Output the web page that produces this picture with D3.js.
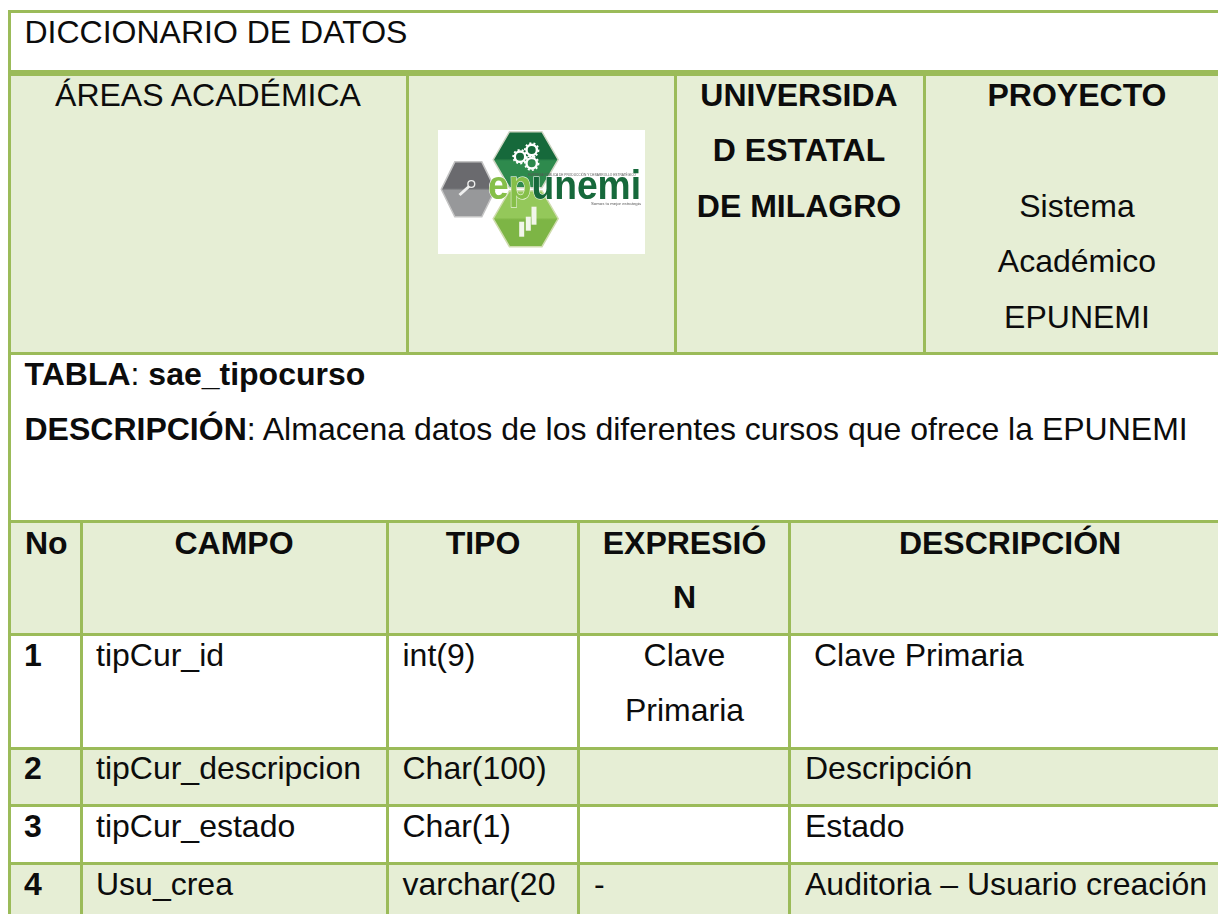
<!DOCTYPE html>
<html>
<head>
<meta charset="utf-8">
<script src="https://cdn.jsdelivr.net/npm/d3@7"></script>
<style>
  html, body { margin: 0; padding: 0; background: #fff; }
  svg { display: block; }
  text { font-family: "Liberation Sans", Arial, sans-serif; fill: #0c0c0c; }
</style>
</head>
<body>
<div id="chart"></div>
<script>
// table contents
var titleText = "DICCIONARIO DE DATOS";
var areaText = "ÁREAS ACADÉMICA";
var uniLines = ["UNIVERSIDA", "D ESTATAL", "DE MILAGRO"];
var projTitle = "PROYECTO";
var projLines = ["Sistema", "Académico", "EPUNEMI"];
var tablaLabel = "TABLA";
var tablaName = "sae_tipocurso";
var descLabel = "DESCRIPCIÓN";
var descText = ": Almacena datos de los diferentes cursos que ofrece la EPUNEMI";

var columns = ["No", "CAMPO", "TIPO", "EXPRESIÓN", "DESCRIPCIÓN"];
var headerLines = [["No"], ["CAMPO"], ["TIPO"], ["EXPRESIÓ", "N"], ["DESCRIPCIÓN"]];
var rowNo = ["1", "2", "3", "4"];
var rowCampo = ["tipCur_id", "tipCur_descripcion", "tipCur_estado", "Usu_crea"];
var rowTipo = ["int(9)", "Char(100)", "Char(1)", "varchar(20"];
var rowExpr = [["Clave", "Primaria"], [], [], ["-"]];
var rowDesc = ["Clave Primaria", "Descripción", "Estado", "Auditoria – Usuario creación"];

var width = 1218, height = 914;
var green = "#9bbb59", pale = "#e6eed5";
var fontSize = 32;

var svg = d3.select("#chart").append("svg")
  .attr("width", width)
  .attr("height", height);
var defs = svg.append("defs");

// layout of the two grids
var colEdge = d3.scaleOrdinal().domain(columns).range([9.5, 81.5, 387.5, 578.5, 789.5]);
var bandY = d3.scaleOrdinal().domain(["head", "0", "1", "2", "3", "end"]).range([521, 634.5, 748.5, 805.5, 863.5, 914]);
var topEdge = d3.scaleOrdinal().domain(["logo", "uni", "proj"]).range([407.5, 675.5, 924.5]);

function text(x, y, s, bold, anchor) {
  return svg.append("text")
    .attr("x", x).attr("y", y)
    .attr("font-size", fontSize)
    .attr("font-weight", bold ? "bold" : "normal")
    .attr("text-anchor", anchor || "start")
    .text(s);
}

// fills
svg.append("rect").attr("x", 9).attr("y", 74).attr("width", width - 9).attr("height", 280).attr("fill", pale);
svg.append("rect").attr("x", 9).attr("y", 521).attr("width", width - 9).attr("height", bandY("0") - 521).attr("fill", pale);
[["1", "2"], ["3", "end"]].forEach(function (k) {
  svg.append("rect").attr("x", 9).attr("y", bandY(k[0])).attr("width", width - 9)
    .attr("height", bandY(k[1]) - bandY(k[0])).attr("fill", pale);
});

// grid lines
function hline(y, w) {
  svg.append("rect").attr("x", 8).attr("y", y - w / 2).attr("width", width - 8).attr("height", w).attr("fill", green);
}
function vline(x, y0, y1, w) {
  svg.append("rect").attr("x", x - w / 2).attr("y", y0).attr("width", w).attr("height", y1 - y0).attr("fill", green);
}
hline(11.5, 3);
hline(73, 6);
hline(353.5, 3);
hline(521.5, 3);
["0", "1", "2", "3"].forEach(function (k) { hline(bandY(k), 3); });
vline(9.5, 10, height, 3);
["logo", "uni", "proj"].forEach(function (k) { vline(topEdge(k), 73, 354, 3); });
columns.slice(1).forEach(function (c) { vline(colEdge(c), 521, height, 3); });

// top block
text(24.5, 43, titleText);
text(208, 106, areaText, false, "middle");
uniLines.forEach(function (s, i) { text(799, 105.5 + i * 55.5, s, true, "middle"); });
text(1077, 105.5, projTitle, true, "middle");
projLines.forEach(function (s, i) { text(1077, 216.5 + i * 55.5, s, false, "middle"); });

// logo
var logo = svg.append("g").attr("transform", "translate(438,130)");
logo.append("rect").attr("width", 207).attr("height", 124).attr("fill", "#fff");
defs.append("filter").attr("id", "soft").append("feGaussianBlur").attr("stdDeviation", 0.45);
function shade(id, c0, c1) {
  var g = defs.append("linearGradient").attr("id", id).attr("x1", 0).attr("y1", 0).attr("x2", 0).attr("y2", 1);
  g.append("stop").attr("offset", "48%").attr("stop-color", c0);
  g.append("stop").attr("offset", "52%").attr("stop-color", c1);
}
shade("hexDark", "#17693a", "#2f8a4e");
shade("hexGrey", "#6a6b6e", "#97989a");
shade("hexLight", "#94c85a", "#7db544");
var art = logo.append("g").attr("filter", "url(#soft)");
function hexPath(cx, cy, rx, ry) {
  return d3.line()(d3.range(6).map(function (i) {
    var a = i * Math.PI / 3;
    return [cx + rx * Math.cos(a), cy + ry * Math.sin(a) / Math.sin(Math.PI / 3)];
  })) + "Z";
}
art.append("path").attr("d", hexPath(87.7, 29.7, 32.5, 28)).attr("fill", "url(#hexDark)").attr("stroke", "#cfd6c4").attr("stroke-width", 1.5);
art.append("path").attr("d", hexPath(30.3, 59.3, 27, 27.5)).attr("fill", "url(#hexGrey)").attr("stroke", "#c4c4c4").attr("stroke-width", 1.5);
art.append("path").attr("d", hexPath(87.7, 88.7, 32.5, 28)).attr("fill", "url(#hexLight)").attr("stroke", "#cfdcae").attr("stroke-width", 1.5);
[[82, 26.7], [93.7, 20], [93.7, 33.3]].forEach(function (g) {
  art.append("circle").attr("cx", g[0]).attr("cy", g[1]).attr("r", 5.2)
    .attr("fill", "none").attr("stroke", "#fff").attr("stroke-width", 2.4);
  art.append("circle").attr("cx", g[0]).attr("cy", g[1]).attr("r", 6.8)
    .attr("fill", "none").attr("stroke", "#fff").attr("stroke-width", 1.8).attr("stroke-dasharray", "2 2.2");
});
art.append("circle").attr("cx", 33.3).attr("cy", 54).attr("r", 3.4).attr("fill", "none").attr("stroke", "#eee").attr("stroke-width", 1.4);
art.append("line").attr("x1", 31).attr("y1", 56.5).attr("x2", 21.5).attr("y2", 65).attr("stroke", "#eee").attr("stroke-width", 3);
[[83.7, 91.7, 15], [90.3, 86.7, 14], [96, 76.7, 18]].forEach(function (b) {
  art.append("rect").attr("x", b[0] - 2.5).attr("y", b[1]).attr("width", 5).attr("height", b[2]).attr("fill", "#f2f6ea");
});
var brand = art.append("text").attr("x", 50).attr("y", 69).attr("font-size", 40).attr("font-weight", "bold")
  .attr("textLength", 153).attr("lengthAdjust", "spacingAndGlyphs")
  .attr("stroke", "#fff").attr("stroke-width", 1).attr("paint-order", "stroke");
brand.append("tspan").style("fill", "#86bf4a").text("ep");
brand.append("tspan").style("fill", "#17693a").text("unemi");
art.append("text").attr("x", 90).attr("y", 46).attr("font-size", 3.6).attr("textLength", 108)
  .attr("lengthAdjust", "spacingAndGlyphs").style("fill", "#555")
  .text("EMPRESA PÚBLICA DE PRODUCCIÓN Y DESARROLLO ESTRATÉGICO");
art.append("text").attr("x", 153).attr("y", 75).attr("font-size", 4).attr("textLength", 50)
  .attr("lengthAdjust", "spacingAndGlyphs").style("fill", "#555").text("Somos tu mejor estrategia");

// middle block
var tl = text(24.5, 385, tablaLabel, true);
tl.append("tspan").attr("font-weight", "normal").text(": ");
tl.append("tspan").text(tablaName);
var dl = text(24.5, 439.5, descLabel, true);
dl.append("tspan").attr("font-weight", "normal").text(descText);

// lower table
var headX = [[25, "start"], [234, "middle"], [483, "middle"], [684.5, "middle"], [1010, "middle"]];
headerLines.forEach(function (lines, i) {
  lines.forEach(function (s, j) { text(headX[i][0], 554 + j * 54, s, true, headX[i][1]); });
});
var rowBase = [666, 779, 837, 895];
rowNo.forEach(function (s, i) { text(24, rowBase[i], s, true); });
rowCampo.forEach(function (s, i) { text(96, rowBase[i], s); });
rowTipo.forEach(function (s, i) { text(402.5, rowBase[i], s); });
rowExpr.forEach(function (lines, i) {
  lines.forEach(function (s, j) {
    if (s == "-") text(594, rowBase[i], s);
    else text(684.5, rowBase[i] + j * 55, s, false, "middle");
  });
});
rowDesc.forEach(function (s, i) { text(i == 0 ? 814 : 805, rowBase[i], s); });
</script>
</body>
</html>
